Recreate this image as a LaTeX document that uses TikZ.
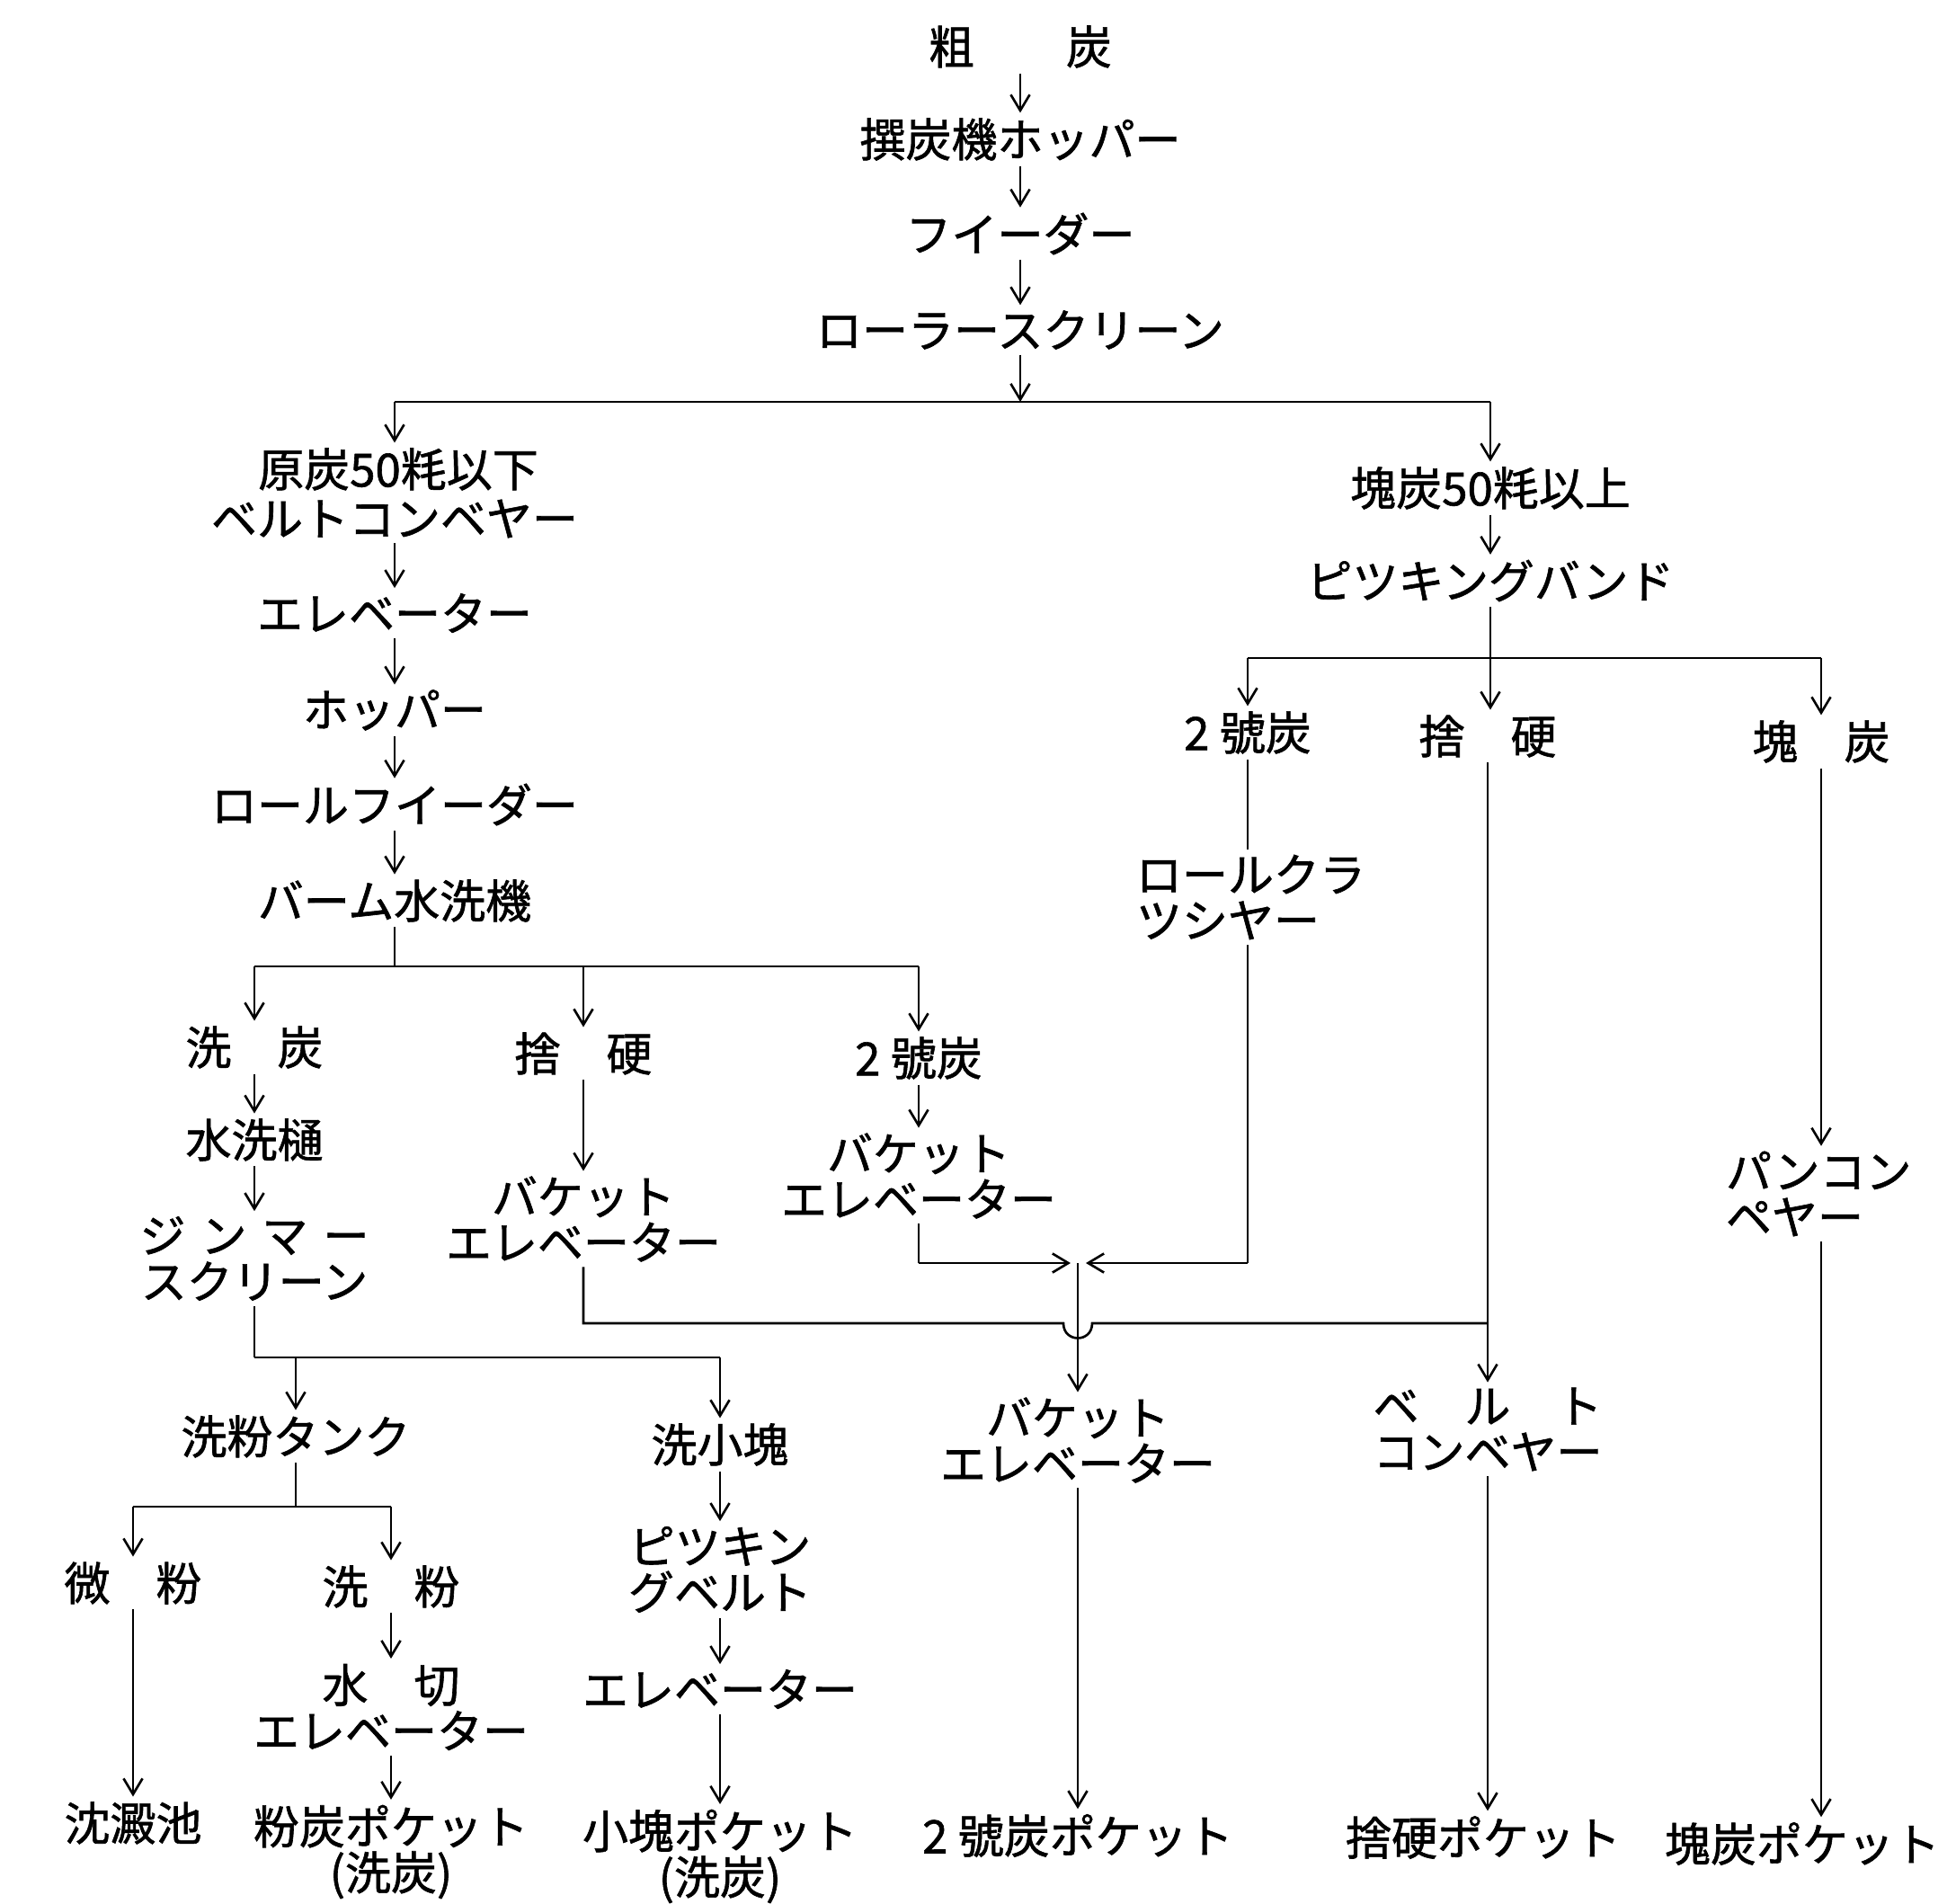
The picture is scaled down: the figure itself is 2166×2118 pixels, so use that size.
\documentclass[tikz,border=0pt]{standalone}
\usepackage{fontspec}
\newfontfamily\jp[FakeBold=1.2]{Noto Sans CJK JP}
\usetikzlibrary{arrows.meta}
\begin{document}
\begin{tikzpicture}[x=0.01cm,y=-0.01cm,
  t/.style={inner sep=1.5pt,font=\jp\fontsize{14.5}{14.5}\selectfont,align=center},
  tl/.style={t,align=left},
  ln/.style={line width=0.75pt},
  arr/.style={ln,-{Straight Barb[length=5pt,width=6pt]}}]
\useasboundingbox (0,0) rectangle (2166,2118);
\fill[white] (0,0) rectangle (2166,2118);
% top column
\node[t] (c0) at (1135,52) {粗　　炭};
\node[t] (c1) at (1135,155) {撰炭機ホッパー};
\node[t] (c2) at (1135,260) {フイーダー};
\node[t] (c3) at (1135,367) {ローラースクリーン};
\coordinate (s0) at (1135,447);
\coordinate (sL) at (439,447);
\coordinate (sR) at (1658,447);
% left column
\node[t] (L0) at (443,522) {原炭50粍以下};
\node[t] (L1) at (439,577) {ベルトコンベヤー};
\node[t] (L2) at (439,682) {エレベーター};
\node[t] (L3) at (439,790) {ホッパー};
\node[t] (L4) at (439,895) {ロールフイーダー};
\node[t] (L5) at (439,1002) {バーム水洗機};
\coordinate (b1) at (439,1075);
\coordinate (b1a) at (283,1075);
\coordinate (b1b) at (649,1075);
\coordinate (b1c) at (1022,1075);
\node[t] (A1) at (283,1165) {洗　炭};
\node[t] (A2) at (649,1172) {捨　硬};
\node[t] (A3) at (1022,1177) {2 號炭};
\node[t] (W1) at (283,1268) {水洗樋};
\node[t] (W2) at (283,1400) {\makebox[5em][s]{ジ\hfill ン\hfill マ\hfill ー}\\スクリーン};
\coordinate (b2a) at (283,1510);
\coordinate (b2b) at (329,1510);
\coordinate (b2c) at (801,1510);
\node[t] (T1) at (329,1598) {洗粉タンク};
\node[t] (T2) at (801,1607) {洗小塊};
\coordinate (b3) at (329,1676);
\coordinate (b3a) at (148,1676);
\coordinate (b3c) at (435,1676);
\node[t] (F1) at (148,1761) {微　粉};
\node[t] (F2) at (435,1765) {洗　粉};
\node[t] (F3) at (148,2028) {沈澱池};
\node[t] (F4) at (435,1899) {水　切\\エレベーター};
\node[t] (F5) at (435,2060) {粉炭ポケット\\(洗炭)};
\node[t] (P1) at (801,1746) {ピツキン\\グベルト};
\node[t] (P2) at (801,1879) {エレベーター};
\node[t] (P3) at (801,2065) {小塊ポケット\\(洗炭)};
\node[t] (B1) at (649,1356) {バケット\\エレベーター};
\node[t] (B2) at (1022,1308) {バケット\\エレベーター};
\coordinate (h1) at (649,1472);
\coordinate (h2) at (1655,1472);
\coordinate (m1) at (1022,1405);
\coordinate (M) at (1199,1405);
\coordinate (mL) at (1191,1405);
\coordinate (mR) at (1208,1405);
\node[t] (B3) at (1199,1602) {バケット\\エレベーター};
\node[t] (B4) at (1199,2042) {2 號炭ポケット};
% right column
\node[t] (R0) at (1658,543) {塊炭50粍以上};
\node[t] (R1) at (1658,646) {ピツキングバンド};
\coordinate (rb) at (1658,732);
\coordinate (rba) at (1388,732);
\coordinate (rbc) at (2026,732);
\node[t] (R2) at (1388,815) {2 號炭};
\node[t] (R3) at (1655,819) {捨　硬};
\node[t] (R4) at (2026,825) {塊　炭};
\node[tl,anchor=west] (R5) at (1258,998) {ロールクラ\\ツシヤー};
\coordinate (r2m) at (1388,1405);
\node[t] (R6) at (1655,1590) {\makebox[5em][s]{ベ\hfill ル\hfill ト}\\コンベヤー};
\node[t] (R7) at (1650,2044) {捨硬ポケット};
\node[tl,anchor=west] (R8) at (1914,1328) {パンコン\\ペヤー};
\node[t] (R9) at (2005,2051) {塊炭ポケット};
% connectors
\draw[arr] (c0) -- (c1);
\draw[arr] (c1) -- (c2);
\draw[arr] (c2) -- (c3);
\draw[arr] (c3) -- (s0);
\draw[ln] (sL) -- (sR);
\draw[arr] (sL) -- (sL |- L0.north);
\draw[arr] (sR) -- (R0);
\draw[arr] (L1) -- (L2);
\draw[arr] (L2) -- (L3);
\draw[arr] (L3) -- (L4);
\draw[arr] (L4) -- (L5);
\draw[ln] (L5) -- (b1);
\draw[ln] (b1a) -- (b1c);
\draw[arr] (b1a) -- (A1);
\draw[arr] (b1b) -- (A2);
\draw[arr] (b1c) -- (A3);
\draw[arr] (A1) -- (W1);
\draw[arr] (W1) -- (W2);
\draw[ln] (W2) -- (b2a);
\draw[ln] (b2a) -- (b2c);
\draw[arr] (b2b) -- (T1);
\draw[arr] (b2c) -- (T2);
\draw[ln] (T1) -- (b3);
\draw[ln] (b3a) -- (b3c);
\draw[arr] (b3a) -- (F1);
\draw[arr] (b3c) -- (F2);
\draw[arr] (F1) -- (F3);
\draw[arr] (F2) -- (F4);
\draw[arr] (F4) -- (F5);
\draw[arr] (T2) -- (P1);
\draw[arr] (P1) -- (P2);
\draw[arr] (P2) -- (P3);
\draw[arr] (A2) -- (B1);
\draw[arr] (A3) -- (B2);
\draw[ln] (B1) -- (h1) -- (1183,1472) .. controls (1183,1494) and (1215,1494) .. (1215,1472) -- (h2);
\draw[ln] (B2) -- (m1);
\draw[arr] (m1) -- (mL);
\draw[arr] (M) -- (B3);
\draw[arr] (B3) -- (B4);
\draw[arr] (R0) -- (R1);
\draw[ln] (R1) -- (rb);
\draw[ln] (rba) -- (rbc);
\draw[arr] (rba) -- (R2);
\draw[arr] (rb) -- (rb |- R3.north);
\draw[arr] (rbc) -- (R4);
\draw[ln] (R2) -- (R2 |- R5.north);
\draw[ln] (R2 |- R5.south) -- (r2m);
\draw[arr] (r2m) -- (mR);
\draw[arr] (R3) -- (R3 |- R6.north);
\draw[arr] (R6) -- (R6 |- R7.north);
\draw[arr] (R4) -- (R4 |- R8.north);
\draw[arr] (R4 |- R8.south) -- (R4 |- R9.north);
\end{tikzpicture}
\end{document}
